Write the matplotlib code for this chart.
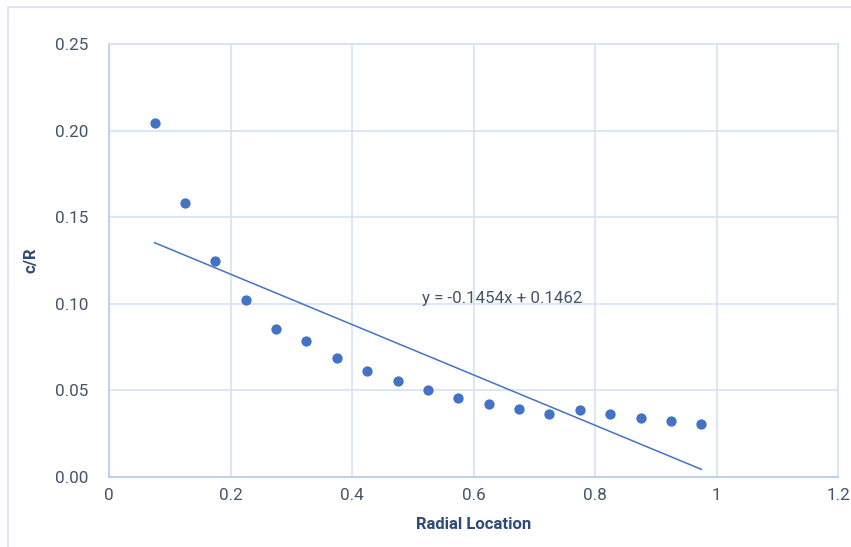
import matplotlib
matplotlib.use("Agg")
import matplotlib.pyplot as plt
from matplotlib.patches import Rectangle
import numpy as np

plt.rcParams['font.family'] = ['Roboto', 'DejaVu Sans']

radial = [0.075, 0.125, 0.175, 0.225, 0.275, 0.325, 0.375, 0.425, 0.475, 0.525,
          0.575, 0.625, 0.675, 0.725, 0.775, 0.825, 0.875, 0.925, 0.975]
c_over_R = [0.2044, 0.1582, 0.1247, 0.1022, 0.0855, 0.0785, 0.0687, 0.0612, 0.0554, 0.0502,
            0.0456, 0.0421, 0.0393, 0.0364, 0.0387, 0.0364, 0.0341, 0.0323, 0.0306]
slope = -0.1454
intercept = 0.1462
x_ticks = [0, 0.2, 0.4, 0.6, 0.8, 1.0, 1.2]
x_tick_labels = ['0', '0.2', '0.4', '0.6', '0.8', '1', '1.2']
y_ticks = [0.00, 0.05, 0.10, 0.15, 0.20, 0.25]
y_tick_labels = ['0.00', '0.05', '0.10', '0.15', '0.20', '0.25']

W, H = 851, 547
fig = plt.figure(figsize=(W / 100, H / 100), dpi=100)
fig.patches.append(Rectangle((8 / W, -0.05), 1.0, 1.05 - 7 / H, transform=fig.transFigure,
                             fill=False, edgecolor='#D6E2F3', linewidth=1.2))

ax = fig.add_axes([109 / W, (H - 477) / H, 729 / W, 433 / H])

grid_col = '#D6E3F4'
text_col = '#44546A'
title_col = '#2F4A78'
mark_col = '#4472C4'

ax.set_xlim(0, 1.2)
ax.set_ylim(0, 0.25)
ax.set_xticks(x_ticks)
ax.set_xticklabels(x_tick_labels)
ax.set_yticks(y_ticks)
ax.set_yticklabels(y_tick_labels)
ax.grid(True, color=grid_col, linewidth=1.2)
ax.set_axisbelow(True)
ax.tick_params(length=0, labelsize=12.3, labelcolor=text_col)
ax.tick_params(axis='y', pad=15)
ax.tick_params(axis='x', pad=8)
for s in ['top', 'right']:
    ax.spines[s].set_color(grid_col)
    ax.spines[s].set_linewidth(1.2)
for s in ['left', 'bottom']:
    ax.spines[s].set_color('#B4CBEA')
    ax.spines[s].set_linewidth(1.2)

ax.scatter(radial, c_over_R, s=55, color=mark_col, zorder=3, linewidths=0)
xl = np.array([radial[0], radial[-1]])
ax.plot(xl, slope * xl + intercept, color=mark_col, linewidth=1.1, zorder=2)

ax.text(0.515, 0.1033, f'y = {slope}x + {intercept}', fontsize=12.2, color=text_col,
        ha='left', va='center')

ax.set_xlabel('Radial Location', fontsize=12, fontweight='bold', color=title_col, labelpad=10)
ax.set_ylabel('c/R', fontsize=12, fontweight='bold', color=title_col, labelpad=12)

fig.savefig('out.png', dpi=100)
